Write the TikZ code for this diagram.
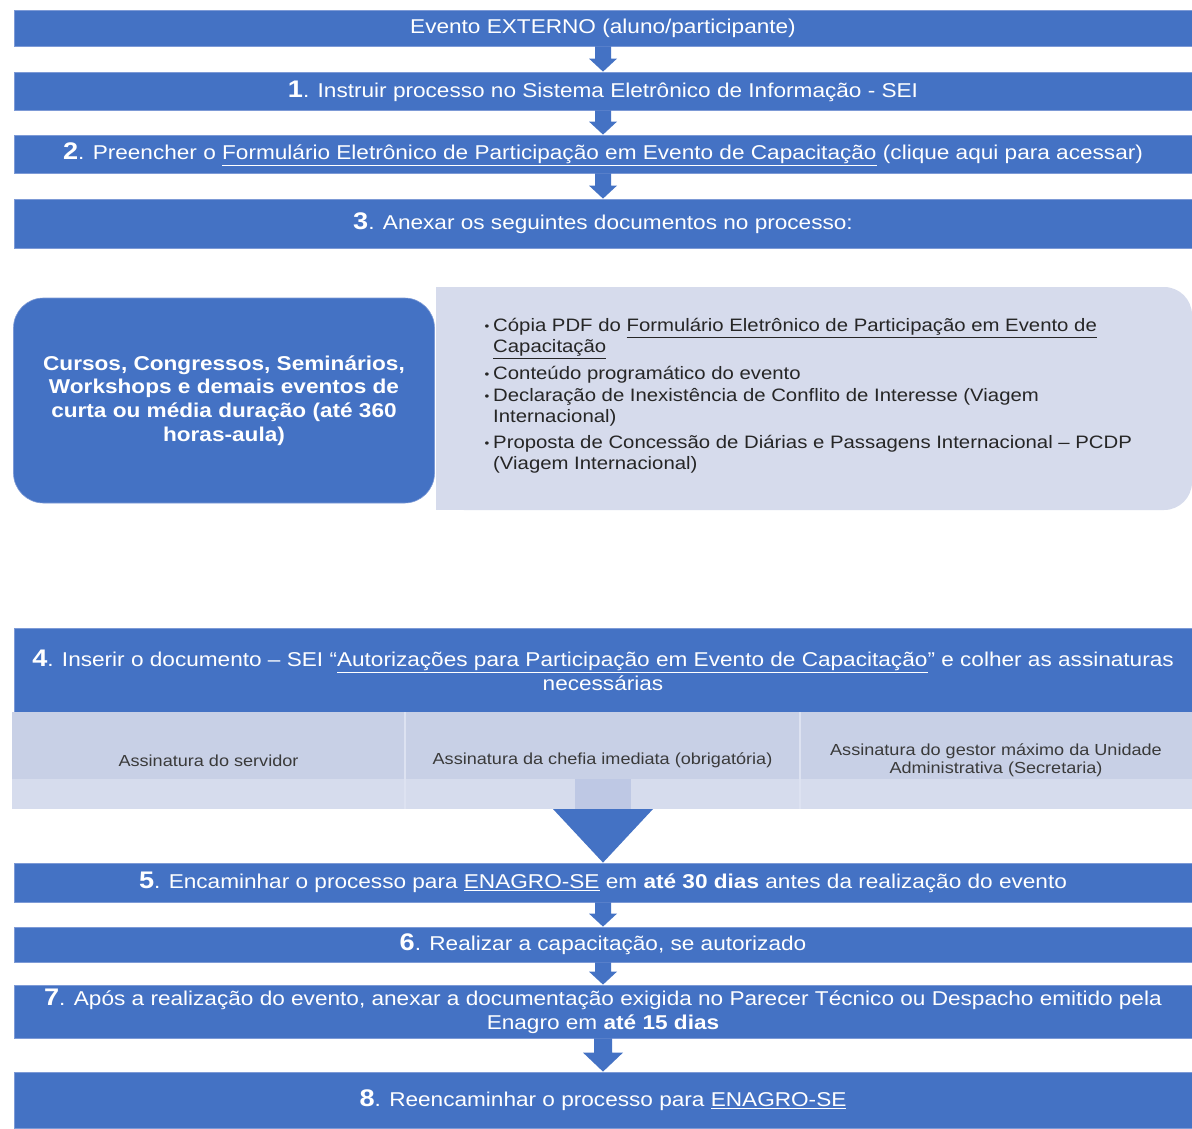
\documentclass[tikz,border=0pt]{standalone}
\usepackage{fontspec}
\setmainfont{Liberation Sans}[FakeStretch=1.13]
\definecolor{ofblue}{HTML}{4472C4}
\definecolor{barline}{HTML}{7D9AD6}
\definecolor{lav}{HTML}{D6DBEC}
\definecolor{celldark}{HTML}{C8D0E6}
\definecolor{celllight}{HTML}{D6DCED}
\definecolor{shaftc}{HTML}{BEC8E4}
\definecolor{sepc}{HTML}{DDE2F1}
\definecolor{celltext}{HTML}{3A3A3A}
\definecolor{listtext}{HTML}{262626}
\newcommand\stepnum[1]{{\fontsize{24}{24}\selectfont\bfseries #1}}
% from node, to node, shaft half width, head half width, head length
\newcommand\blkarrow[5]{%
  \fill[ofblue] ([xshift=-#3pt]#1.south) -- ([xshift=#3pt]#1.south)
    -- ([xshift=#3pt,yshift=#5pt]#2.north) -- ([xshift=#4pt,yshift=#5pt]#2.north)
    -- (#2.north) -- ([xshift=-#4pt,yshift=#5pt]#2.north)
    -- ([xshift=-#3pt,yshift=#5pt]#2.north) -- cycle;}
\begin{document}
\begin{tikzpicture}[x=1pt,y=-1pt,
  bar/.style={fill=ofblue, draw=barline, line width=0.8pt, text=white,
    minimum width=1178pt, inner sep=0pt, align=center,
    font=\fontsize{20}{24}\selectfont},
  cell/.style={inner sep=0pt, minimum height=97pt, align=center,
    text=celltext, font=\fontsize{16}{18}\selectfont},
  li/.style={anchor=west, inner sep=0pt, text=listtext,
    font=\fontsize{18}{21}\selectfont, text height=13pt, text depth=4pt},
  bul/.style={anchor=center, inner sep=0pt, text=listtext,
    font=\fontsize{12}{12}\selectfont}
]
\useasboundingbox[fill=white] (0,0) rectangle (1192,1128);

% top bars
\node[bar, minimum height=36pt] (b0) at (603,28) {Evento EXTERNO (aluno/participante)};
\node[bar, minimum height=38pt] (b1) at (603,91) {\stepnum{1}. Instruir processo no Sistema Eletrônico de Informação - SEI};
\node[bar, minimum height=38pt] (b2) at (603,154) {\stepnum{2}. Preencher o \underline{Formulário Eletrônico de Participação em Evento de Capacitação} (clique aqui para acessar)};
\node[bar, minimum height=49pt] (b3) at (603,223.5) {\stepnum{3}. Anexar os seguintes documentos no processo:};

\blkarrow{b0}{b1}{8}{14}{13}
\blkarrow{b1}{b2}{8}{14}{13}
\blkarrow{b2}{b3}{8}{14}{13}

% documents block
\fill[lav, rounded corners=28pt] (436,287) rectangle (1192,510);
\fill[lav] (436,287) rectangle (700,510);
\node[fill=ofblue, draw=barline, line width=0.6pt, rounded corners=30pt,
  minimum width=421pt, minimum height=205pt, text=white, align=center,
  font=\fontsize{20}{23.7}\selectfont\bfseries] (lbox) at (224,400.5)
  {Cursos, Congressos, Seminários,\\Workshops e demais eventos de\\curta ou média duração (até 360\\horas-aula)};

\node[bul] (u1) at (487,328) {\textbullet};
\node[li] (l1) at (493,327) {Cópia PDF do \underline{Formulário Eletrônico de Participação em Evento de}};
\node[li] (l2) at (493,348) {\underline{Capacitação}};
\node[bul] (u2) at (487,376) {\textbullet};
\node[li] (l3) at (493,375) {Conteúdo programático do evento};
\node[bul] (u3) at (487,398) {\textbullet};
\node[li] (l4) at (493,397) {Declaração de Inexistência de Conflito de Interesse (Viagem};
\node[li] (l5) at (493,418) {Internacional)};
\node[bul] (u4) at (487,445) {\textbullet};
\node[li] (l6) at (493,444) {Proposta de Concessão de Diárias e Passagens Internacional – PCDP};
\node[li] (l7) at (493,465) {(Viagem Internacional)};

% step 4 with signature table
\node[bar, minimum height=84pt] (b4) at (603,670) {\stepnum{4}. Inserir o documento – SEI “\underline{Autorizações para Participação em Evento de Capacitação}” e colher as assinaturas\\necessárias};
\fill[celllight] (12,712) rectangle (1192,809);
\fill[celldark] (12,712) rectangle (1192,779);
\draw[sepc, line width=1.2pt] (405,712) -- (405,809);
\draw[sepc, line width=1.2pt] (800,712) -- (800,809);
\fill[shaftc] (575,779) rectangle (631,809);
\node[cell] (c1) at (208.5,760.5) {Assinatura do servidor};
\node[cell] (c2) at (602.5,760.5) {Assinatura da chefia imediata (obrigatória)};
\node[cell] (c3) at (996,760.5) {Assinatura do gestor máximo da Unidade\\Administrativa (Secretaria)};

% lower bars
\node[bar, minimum height=39pt] (b5) at (603,882.5) {\stepnum{5}. Encaminhar o processo para \underline{ENAGRO-SE} em \textbf{até 30 dias} antes da realização do evento};
\node[bar, minimum height=35pt] (b6) at (603,944.5) {\stepnum{6}. Realizar a capacitação, se autorizado};
\node[bar, minimum height=53pt] (b7) at (603,1011.5) {\stepnum{7}. Após a realização do evento, anexar a documentação exigida no Parecer Técnico ou Despacho emitido pela\\Enagro em \textbf{até 15 dias}};
\node[bar, minimum height=56pt] (b8) at (603,1100) {\stepnum{8}. Reencaminhar o processo para \underline{ENAGRO-SE}};

\coordinate (tl) at (553,809);
\coordinate (tr) at (653,809);
\fill[ofblue] (tl) -- (tr) -- (b5.north) -- cycle;

\blkarrow{b5}{b6}{8}{14}{13}
\blkarrow{b6}{b7}{8}{14}{13}
\blkarrow{b7}{b8}{9}{20}{19}
\end{tikzpicture}
\end{document}
